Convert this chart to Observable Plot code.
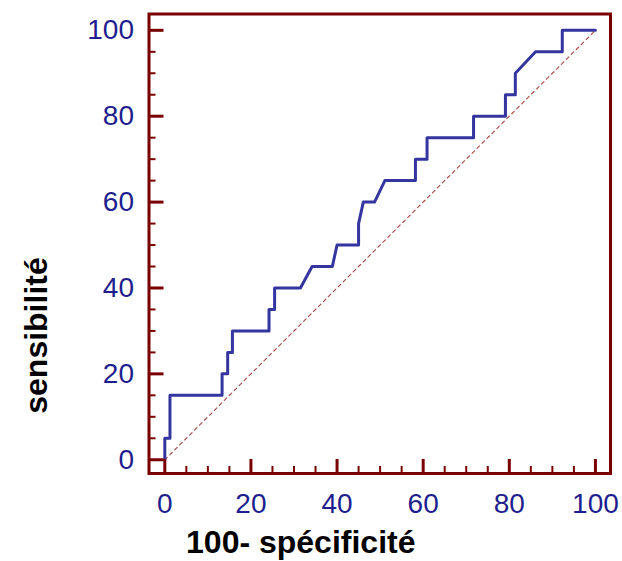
<!DOCTYPE html>
<html>
<head>
<meta charset="utf-8">
<script src="https://cdn.jsdelivr.net/npm/d3@7"></script>
<script src="https://cdn.jsdelivr.net/npm/@observablehq/plot@0.6"></script>
<style>
  html, body { margin: 0; padding: 0; background: #fff; }
</style>
</head>
<body>
<div id="chart"></div>
<script>
// ROC curve: 100 - specificity (x) vs sensitivity (y)
const fpr = [0, 0, 1.2, 1.2, 13.3, 13.3, 14.6, 14.6, 15.7, 15.7, 24.2, 24.2, 25.5, 25.5, 31.5, 34.2, 38.9, 40.0, 45.0, 45.0, 46.1, 48.7, 51.1, 58.2, 58.2, 60.9, 60.9, 71.7, 71.7, 79.1, 79.1, 81.4, 81.4, 86.1, 92.3, 92.3, 100];
const tpr = [0, 5, 5, 15, 15, 20, 20, 25, 25, 30, 30, 35, 35, 40, 40, 45, 45, 50, 50, 55, 60, 60, 65, 65, 70, 70, 75, 75, 80, 80, 85, 85, 90, 95, 95, 100, 100];
const diagonal = [0, 100];
const majorTicks = [0, 20, 40, 60, 80, 100];
const minorTicks = [5, 10, 15, 25, 30, 35, 45, 50, 55, 65, 70, 75, 85, 90, 95];

const roc = fpr.map((x, i) => ({x, y: tpr[i]}));

const W = 622, H = 561;
const mL = 148.5, mR = 12, mT = 13.5, mB = 88;
const xDomain = [-3.67, 103.5];
const yDomain = [-3.2, 103.8];
const kx = (W - mL - mR) / (xDomain[1] - xDomain[0]);
const ky = (H - mT - mB) / (yDomain[1] - yDomain[0]);
const frameColor = "#7a0000";
const labelColor = "#1e1e8e";
const font = "Liberation Sans, Arial, sans-serif";

const chart = Plot.plot({
  width: W,
  height: H,
  marginLeft: mL,
  marginRight: mR,
  marginTop: mT,
  marginBottom: mB,
  style: {fontFamily: font, background: "#fff"},
  x: {domain: xDomain, axis: null},
  y: {domain: yDomain, axis: null},
  marks: [
    // diagonal reference
    Plot.line(diagonal, {x: d => d, y: d => d, stroke: "#a84444", strokeWidth: 1.1, strokeDasharray: "3.5,3.5"}),
    // ROC curve
    Plot.line(roc, {x: "x", y: "y", stroke: "#3535a0", strokeWidth: 3, strokeLinejoin: "round"}),
    // inward ticks on x (bottom)
    Plot.ruleX(majorTicks, {x: d => d, y1: yDomain[0], y2: yDomain[0] + 14 / ky, stroke: frameColor, strokeWidth: 3}),
    Plot.ruleX(minorTicks, {x: d => d, y1: yDomain[0], y2: yDomain[0] + 7 / ky, stroke: frameColor, strokeWidth: 2}),
    // inward ticks on y (left)
    Plot.ruleY(majorTicks, {y: d => d, x1: xDomain[0], x2: xDomain[0] + 15 / kx, stroke: frameColor, strokeWidth: 3}),
    Plot.ruleY(minorTicks, {y: d => d, x1: xDomain[0], x2: xDomain[0] + 7 / kx, stroke: frameColor, strokeWidth: 2}),
    Plot.frame({stroke: frameColor, strokeWidth: 3}),
    // tick labels
    Plot.axisX({ticks: majorTicks, tickSize: 0, tickPadding: 20, fontSize: 28, color: labelColor, label: null}),
    Plot.axisY({ticks: majorTicks, tickSize: 0, tickPadding: 15, fontSize: 28, color: labelColor, label: null}),
    // axis titles
    Plot.text(["100- spécificité"], {frameAnchor: "bottom", lineAnchor: "bottom", dx: -79, dy: 79, text: d => d, fontSize: 32, fontWeight: "bold", fill: "#000"}),
    Plot.text(["sensibilité"], {frameAnchor: "left", lineAnchor: "bottom", rotate: -90, dx: -102, dy: 170, text: d => d, fontSize: 32, fontWeight: "bold", fill: "#000"})
  ]
});
document.getElementById("chart").appendChild(chart);
</script>
</body>
</html>
